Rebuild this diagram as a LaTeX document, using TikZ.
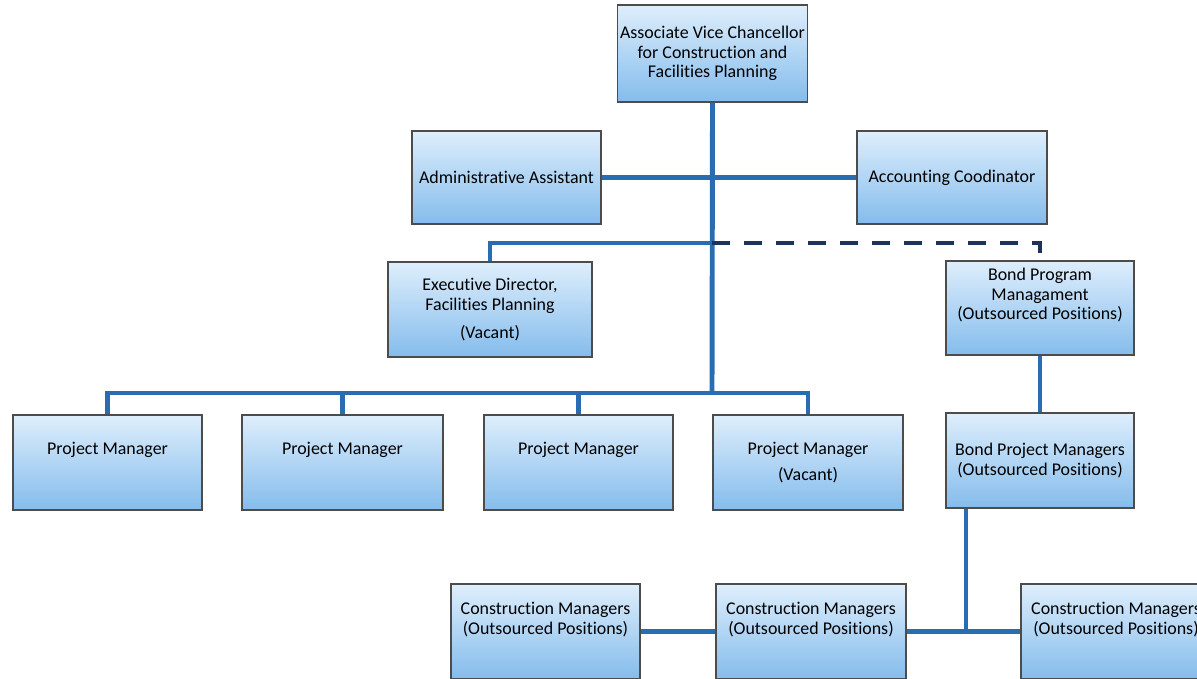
\documentclass[tikz,border=0pt]{standalone}
\usepackage{fontspec}
\setmainfont{Carlito}[Ligatures=NoCommon]
\usepackage{tikz}

\definecolor{boxtop}{RGB}{222,238,252}
\definecolor{boxbot}{RGB}{132,188,236}
\definecolor{linkblue}{RGB}{42,108,178}
\definecolor{navy}{RGB}{28,52,92}

\begin{document}
\begin{tikzpicture}[x=0.02cm, y=-0.02cm, main node/.style={rectangle, draw=black!70, line width=0.8pt, top color=boxtop, bottom color=boxbot, align=center, minimum width=3.8cm, minimum height=1.9cm, inner sep=1pt, font=\fontsize{10.2}{11}\selectfont}, link/.style={draw=linkblue, line width=2.8pt}]

			\useasboundingbox (0,0) rectangle (1197,679);

			\node[main node, minimum height=1.94cm] (1) at (712.5,53.5) {Associate Vice Chancellor\\for Construction and\\Facilities Planning};
			\node[main node, minimum width=3.78cm, minimum height=1.86cm] (2) at (506.5,177.5) {Administrative Assistant};
			\node[main node, minimum height=1.86cm] (3) at (952,177.5) {Accounting Coodinator};

			\node[main node, minimum width=4.08cm] (4) at (490,309.5) {Executive Director,\\Facilities Planning\\[5pt](Vacant)};
			\node[main node, minimum width=3.76cm, minimum height=1.88cm] (5) at (1040,308) {Bond Program\\Managament\\(Outsourced Positions)\\[5pt]~};

			\node[main node, minimum width=3.78cm] (6) at (107.5,462.5) {Project Manager\\[5pt]~};
			\node[main node, minimum width=4.02cm] (7) at (342.5,462.5) {Project Manager\\[5pt]~};
			\node[main node, minimum width=3.78cm] (8) at (578.5,462.5) {Project Manager\\[5pt]~};
			\node[main node] (9) at (808,462.5) {Project Manager\\[4pt](Vacant)};
			\node[main node, minimum width=3.76cm] (10) at (1040,460.5) {Bond Project Managers\\(Outsourced Positions)};

			\node[main node, minimum width=3.78cm] (11) at (545.5,631.5) {Construction Managers\\(Outsourced Positions)\\[4pt]~};
			\node[main node] (12) at (811,631.5) {Construction Managers\\(Outsourced Positions)\\[4pt]~};
			\node[main node] (13) at (1116,631.5) {Construction Managers\\(Outsourced Positions)\\[4pt]~};

			\coordinate (j1) at (712,243);
			\coordinate (bus) at (712,393);
			\coordinate (j2) at (966,630);

			% Vice Chancellor staff
			\path[link] (1.south) -- (bus);
			\path[link] (2.east) -- (3.west);
			\path[link] (4.north) |- (j1);
			\draw[navy, line width=2.8pt, dash pattern=on 0.36cm off 0.28cm] (j1) -| (5.north);

			% project managers
			\path[link] (6.north) |- (bus) -| (9.north);
			\path[link] (7.north) -- (7.north |- bus);
			\path[link] (8.north) -- (8.north |- bus);

			% bond program
			\path[link] (5.south) -- (10.north);
			\path[link] (10.south -| j2) -- (j2);
			\path[link] (11.east) -- (12.west);
			\path[link] (12.east) -- (13.west);

		\end{tikzpicture}
\end{document}
